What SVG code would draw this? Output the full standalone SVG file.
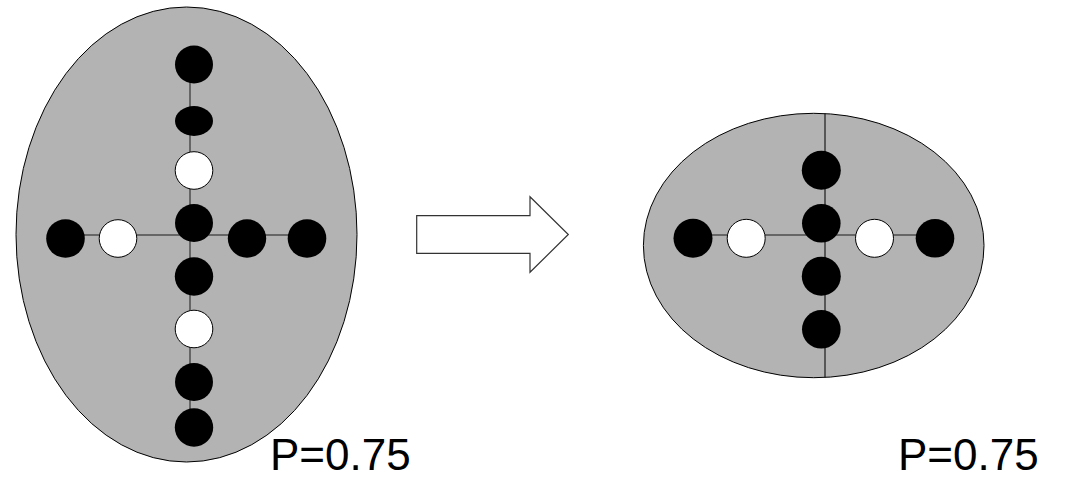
<svg xmlns="http://www.w3.org/2000/svg" width="1070" height="480" viewBox="0 0 1070 480">
  <style>
    .cell { fill: #b3b3b3; stroke: #000; stroke-width: 1; }
    .link { stroke: #4d4d4d; stroke-width: 1.5; fill: none; }
    .axis { stroke: #1a1a1a; stroke-width: 1.2; fill: none; }
    .on { fill: #000; }
    .off { fill: #fff; stroke: #000; stroke-width: 1; }
    .label { font-family: "Liberation Sans", Arial, sans-serif; font-size: 44px; fill: #000; }
  </style>
  <rect width="1070" height="480" fill="#fff"/>

  <!-- left cell: elongated -->
  <g id="cell-left">
    <ellipse class="cell" cx="186.5" cy="234.5" rx="170.5" ry="227.5"/>
    <g id="cell-left-links">
      <line class="link" x1="190" y1="64" x2="190" y2="427"/>
      <line class="link" x1="65" y1="235" x2="307" y2="235"/>
    </g>
    <g id="cell-left-beads">
      <circle class="on" cx="194" cy="64.5" r="19"/>
      <ellipse class="on" cx="194" cy="121" rx="19" ry="15"/>
      <circle class="off" cx="194" cy="170.5" r="18.8"/>
      <circle class="on" cx="194" cy="223" r="19"/>
      <circle class="on" cx="65.5" cy="238.5" r="19.3"/>
      <circle class="off" cx="118" cy="238.5" r="18.8"/>
      <circle class="on" cx="247" cy="238.5" r="19.2"/>
      <circle class="on" cx="307" cy="238.5" r="19.3"/>
      <circle class="on" cx="194" cy="276.5" r="19.2"/>
      <circle class="off" cx="194" cy="329" r="18.8"/>
      <circle class="on" cx="194" cy="382" r="19"/>
      <circle class="on" cx="194" cy="427.5" r="19.2"/>
    </g>
  </g>

  <!-- block arrow -->
  <g id="transition-arrow">
    <path d="M416.7,215.7 H530 V196.7 L568.3,234.5 L530,272.3 V253.3 H416.7 Z" fill="#fff" stroke="#333" stroke-width="1.2"/>
  </g>

  <!-- right cell: rounded -->
  <g id="cell-right">
    <ellipse class="cell" cx="813.7" cy="245.5" rx="170.3" ry="132.2"/>
    <g id="cell-right-links">
      <line class="axis" x1="825" y1="113.3" x2="825" y2="377.7"/>
      <line class="link" x1="693" y1="235" x2="935" y2="235"/>
    </g>
    <g id="cell-right-beads">
      <circle class="on" cx="821.3" cy="170.3" r="19.5"/>
      <circle class="on" cx="821.3" cy="223.3" r="19.3"/>
      <circle class="on" cx="821.3" cy="276.3" r="19.5"/>
      <circle class="on" cx="821.3" cy="329.3" r="19.3"/>
      <circle class="on" cx="693" cy="238.3" r="19.5"/>
      <circle class="off" cx="746.2" cy="238.3" r="19"/>
      <circle class="off" cx="874.5" cy="238.3" r="19"/>
      <circle class="on" cx="935" cy="238.3" r="19.3"/>
    </g>
  </g>

  <g id="labels">
    <text class="label" x="270" y="470">P=0.75</text>
    <text class="label" x="898" y="470">P=0.75</text>
  </g>
</svg>
